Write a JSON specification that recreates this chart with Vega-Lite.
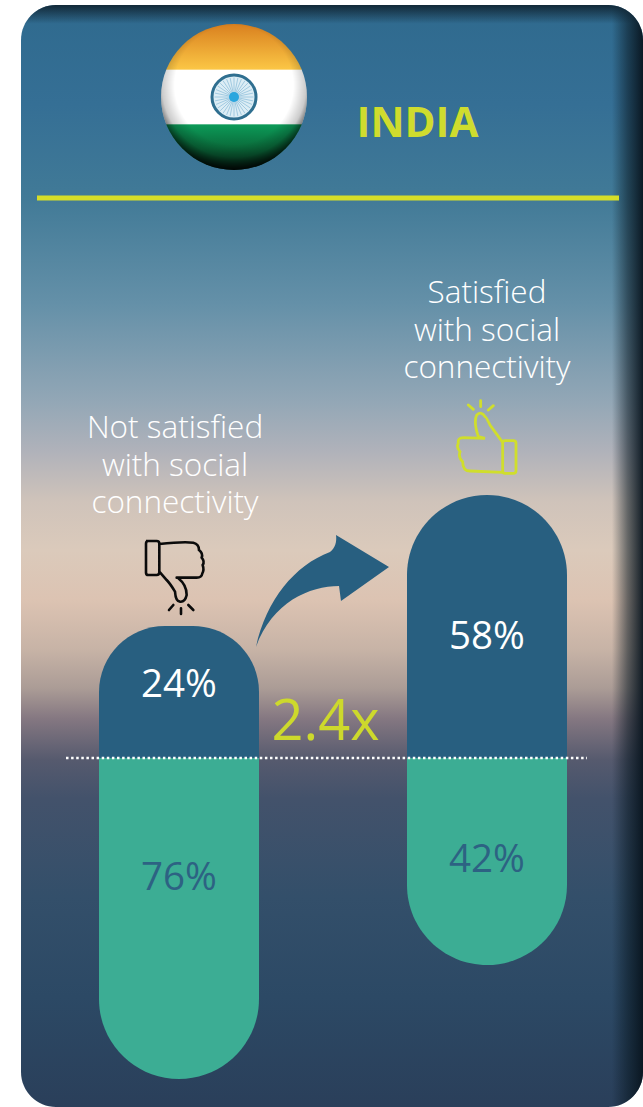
{
  "$schema": "https://vega.github.io/schema/vega-lite/v6.json",
  "width": 643,
  "height": 1107,
  "autosize": "none",
  "padding": 0,
  "background": "#ffffff",
  "config": {"view": {"stroke": null}, "axis": {"disable": true}, "style": {"cell": {"stroke": null}}},
  "datasets": {
    "shares": [
      {"group": "Not satisfied", "part": "upper", "share": 24, "label": "24%", "caption": "Not satisfied\nwith social\nconnectivity"},
      {"group": "Not satisfied", "part": "lower", "share": 76, "label": "76%"},
      {"group": "Satisfied", "part": "upper", "share": 58, "label": "58%", "caption": "Satisfied\nwith social\nconnectivity"},
      {"group": "Satisfied", "part": "lower", "share": 42, "label": "42%"}
    ],
    "header": [{"country": "INDIA", "multiple": "2.4x"}]
  },
  "data": {"name": "shares"},
  "resolve": {"scale": {"x": "independent", "y": "independent"}},
  "layer": [
    {
      "data": {"name": "header"},
      "layer": [
        {
          "mark": {"type": "rect", "cornerRadius": 35, "fill": {"gradient": "linear", "x1": 0, "y1": 0, "x2": 0, "y2": 1, "stops": [
            {"offset": 0, "color": "#2f6a8e"},
            {"offset": 0.09, "color": "#356f95"},
            {"offset": 0.175, "color": "#417a97"},
            {"offset": 0.27, "color": "#6490a8"},
            {"offset": 0.36, "color": "#93a7b6"},
            {"offset": 0.405, "color": "#b0b2ba"},
            {"offset": 0.45, "color": "#cfc3ba"},
            {"offset": 0.495, "color": "#dbcabb"},
            {"offset": 0.54, "color": "#dcc3b2"},
            {"offset": 0.585, "color": "#c7b3a6"},
            {"offset": 0.62, "color": "#ab9c96"},
            {"offset": 0.648, "color": "#847781"},
            {"offset": 0.685, "color": "#565a6e"},
            {"offset": 0.72, "color": "#43526b"},
            {"offset": 0.81, "color": "#334f6a"},
            {"offset": 0.9, "color": "#2c4965"},
            {"offset": 1, "color": "#2a3f5a"}
          ]}},
          "encoding": {
            "x": {"datum": 21, "type": "quantitative", "scale": {"domain": [0, 643], "range": [0, 643], "nice": false, "zero": false}},
            "x2": {"datum": 643},
            "y": {"datum": 5, "type": "quantitative", "scale": {"domain": [0, 1107], "range": [0, 1107], "nice": false, "zero": false}},
            "y2": {"datum": 1107}
          }
        },
        {
          "mark": {"type": "rect", "cornerRadius": 35, "fill": {"gradient": "linear", "x1": 0, "y1": 0, "x2": 1, "y2": 0, "stops": [
            {"offset": 0, "color": "rgba(10,25,35,0)"},
            {"offset": 0.95, "color": "rgba(10,25,35,0)"},
            {"offset": 0.975, "color": "rgba(10,25,35,0.55)"},
            {"offset": 1, "color": "rgba(8,20,30,0.95)"}
          ]}},
          "encoding": {"x": {"datum": 21, "type": "quantitative"}, "x2": {"datum": 643}, "y": {"datum": 5, "type": "quantitative"}, "y2": {"datum": 1107}}
        },
        {
          "mark": {"type": "rect", "cornerRadius": 35, "fill": {"gradient": "linear", "x1": 0, "y1": 0, "x2": 0, "y2": 1, "stops": [
            {"offset": 0, "color": "rgba(15,35,48,0.92)"},
            {"offset": 0.017, "color": "rgba(15,35,48,0)"},
            {"offset": 1, "color": "rgba(15,35,48,0)"}
          ]}},
          "encoding": {"x": {"datum": 21, "type": "quantitative"}, "x2": {"datum": 643}, "y": {"datum": 5, "type": "quantitative"}, "y2": {"datum": 1107}}
        },
        {
          "mark": {"type": "rule", "color": "#d6de28", "strokeWidth": 5},
          "encoding": {"x": {"datum": 37, "type": "quantitative"}, "x2": {"datum": 619}, "y": {"datum": 198, "type": "quantitative"}}
        },
        {
          "mark": {"type": "text", "font": "Open Sans", "fontWeight": "bold", "fontSize": 42, "color": "#cfdc2e", "align": "center", "baseline": "alphabetic"},
          "encoding": {"x": {"datum": 417.5, "type": "quantitative"}, "y": {"datum": 137, "type": "quantitative"}, "text": {"field": "country"}}
        },
        {
          "mark": {"type": "point", "filled": true, "size": 21316, "shape": "circle", "opacity": 1, "fill": {"gradient": "linear", "x1": 0, "y1": 0, "x2": 0, "y2": 1, "stops": [
            {"offset": 0, "color": "#d9801f"},
            {"offset": 0.31, "color": "#fbc645"},
            {"offset": 0.315, "color": "#ffffff"},
            {"offset": 0.685, "color": "#ffffff"},
            {"offset": 0.69, "color": "#0c9a58"},
            {"offset": 0.85, "color": "#0a6a3a"},
            {"offset": 1, "color": "#06291a"}
          ]}},
          "encoding": {"x": {"datum": 234, "type": "quantitative"}, "y": {"datum": 97, "type": "quantitative"}}
        },
        {
          "mark": {"type": "point", "filled": true, "size": 21316, "shape": "circle", "opacity": 1, "fill": {"gradient": "radial", "x1": 0.5, "y1": 0.42, "x2": 0.5, "y2": 0.42, "r1": 0, "r2": 0.58, "stops": [
            {"offset": 0, "color": "rgba(0,0,0,0)"},
            {"offset": 0.7, "color": "rgba(0,0,0,0)"},
            {"offset": 0.85, "color": "rgba(0,0,0,0.2)"},
            {"offset": 1, "color": "rgba(0,0,0,0.85)"}
          ]}},
          "encoding": {"x": {"datum": 234, "type": "quantitative"}, "y": {"datum": 97, "type": "quantitative"}}
        },
        {
          "mark": {"type": "point", "filled": true, "size": 1936, "shape": "circle", "opacity": 1, "fill": "#dcedf5", "stroke": "#2f6f90", "strokeWidth": 3},
          "encoding": {"x": {"datum": 234, "type": "quantitative"}, "y": {"datum": 97, "type": "quantitative"}}
        },
        {
          "mark": {"type": "point", "filled": false, "size": 1521, "opacity": 0.4, "stroke": "#4a97c4", "strokeWidth": 1, "shape": "M0,-1L0,1M-1,0L1,0M-0.71,-0.71L0.71,0.71M-0.71,0.71L0.71,-0.71M-0.38,-0.92L0.38,0.92M0.38,-0.92L-0.38,0.92M-0.92,-0.38L0.92,0.38M-0.92,0.38L0.92,-0.38M-0.2,-0.98L0.2,0.98M0.2,-0.98L-0.2,0.98M-0.98,-0.2L0.98,0.2M-0.98,0.2L0.98,-0.2M-0.56,-0.83L0.56,0.83M0.56,-0.83L-0.56,0.83M-0.83,-0.56L0.83,0.56M-0.83,0.56L0.83,-0.56"},
          "encoding": {"x": {"datum": 234, "type": "quantitative"}, "y": {"datum": 97, "type": "quantitative"}}
        },
        {
          "mark": {"type": "point", "filled": true, "size": 100, "shape": "circle", "opacity": 1, "fill": "#2aa6de"},
          "encoding": {"x": {"datum": 234, "type": "quantitative"}, "y": {"datum": 97, "type": "quantitative"}}
        },
        {
          "mark": {"type": "point", "filled": true, "opacity": 1, "size": 19600, "fill": "#285f80", "strokeWidth": 0, "shape": "M-0.95,0.8C-0.807,0.129,-0.393,-0.371,0.107,-0.557C0.179,-0.614,0.207,-0.7,0.193,-0.8L0.95,-0.343L0.264,0.143L0.236,-0.071C-0.179,-0.071,-0.721,0.157,-0.95,0.8Z"},
          "encoding": {"x": {"datum": 322.5, "type": "quantitative"}, "y": {"datum": 591, "type": "quantitative"}}
        },
        {
          "mark": {"type": "point", "filled": false, "opacity": 1, "size": 4444, "stroke": "#0b0b0b", "strokeWidth": 2.6, "strokeCap": "round", "shape": "M-0.87,-0.92L-0.55,-0.92Q-0.47,-0.92,-0.47,-0.84L-0.47,0.02Q-0.47,0.1,-0.55,0.1L-0.8,0.1Q-0.87,0.1,-0.87,0.03L-0.87,-0.84Q-0.87,-0.92,-0.8,-0.92ZM-0.47,-0.83C-0.1,-0.87,0.3,-0.9,0.55,-0.87Q0.72,-0.83,0.72,-0.65Q0.85,-0.55,0.8,-0.42Q0.9,-0.3,0.83,-0.2Q0.88,-0.05,0.82,0.05Q0.8,0.18,0.65,0.18L0.05,0.18M0.1,0.2Q0.35,0.4,0.35,0.7Q0.3,0.92,0.15,0.9Q0.02,0.9,0,0.6Q-0.15,0.35,-0.25,0.25L-0.47,0M-0.05,1L-0.18,1.15M0.18,1.1L0.18,1.27M0.4,1L0.55,1.15"},
          "encoding": {"x": {"datum": 175, "type": "quantitative"}, "y": {"datum": 571.67, "type": "quantitative"}}
        },
        {
          "mark": {"type": "point", "filled": false, "opacity": 1, "size": 4444, "stroke": "#d0de2c", "strokeWidth": 2.8, "strokeCap": "round", "shape": "M0.55,0.12L0.8,0.12Q0.88,0.12,0.88,0.2L0.88,1.02Q0.88,1.1,0.8,1.1L0.55,1.1Q0.48,1.1,0.48,1.02L0.48,0.2Q0.48,0.12,0.55,0.12ZM0.48,0.17L0.1,-0.35Q-0.02,-0.6,-0.05,-0.6Q-0.15,-0.78,-0.3,-0.65Q-0.4,-0.45,-0.25,0L-0.05,0.05L-0.7,0.03Q-0.88,0.03,-0.85,0.2Q-0.92,0.32,-0.8,0.45Q-0.86,0.62,-0.72,0.75Q-0.72,1.03,-0.5,1.03L0.48,1.07M-0.4,-0.82L-0.55,-0.95M-0.18,-0.9L-0.18,-1.08M0.05,-0.8L0.2,-0.93"},
          "encoding": {"x": {"datum": 486.67, "type": "quantitative"}, "y": {"datum": 436.67, "type": "quantitative"}}
        },
        {
          "mark": {"type": "text", "font": "Open Sans", "fontSize": 56, "color": "#cdd92c", "align": "center", "baseline": "alphabetic"},
          "encoding": {"x": {"datum": 325.5, "type": "quantitative"}, "y": {"datum": 740, "type": "quantitative"}, "text": {"field": "multiple"}}
        }
      ]
    },
    {
      "transform": [{"filter": "datum.part === 'upper'"}],
      "encoding": {
        "x": {"field": "group", "type": "nominal", "scale": {"type": "point", "domain": ["Not satisfied", "Satisfied"], "range": [179, 487], "padding": 0}},
        "y": {"field": "share", "type": "quantitative", "stack": null, "scale": {"domain": [0, 24, 58], "range": [758, 626, 495], "nice": false, "zero": false}}
      },
      "layer": [
        {
          "mark": {"type": "bar", "width": 160, "fill": "#285f80", "cornerRadiusTopLeft": 80, "cornerRadiusTopRight": 80},
          "encoding": {"y2": {"datum": 0}}
        },
        {
          "transform": [{"filter": "datum.share === 24"}],
          "layer": [
            {"mark": {"type": "text", "font": "Open Sans", "fontWeight": 300, "fontSize": 31.5, "color": "#ffffff", "lineHeight": 37.5, "lineBreak": "\n", "baseline": "middle", "dx": -4, "dy": -197}, "encoding": {"text": {"field": "caption"}}},
            {"mark": {"type": "text", "font": "Open Sans", "fontSize": 38.5, "color": "#ffffff", "baseline": "middle", "dy": 59}, "encoding": {"text": {"field": "label"}}}
          ]
        },
        {
          "transform": [{"filter": "datum.share === 58"}],
          "layer": [
            {"mark": {"type": "text", "font": "Open Sans", "fontWeight": 300, "fontSize": 31.5, "color": "#ffffff", "lineHeight": 37.5, "lineBreak": "\n", "baseline": "middle", "dy": -201}, "encoding": {"text": {"field": "caption"}}},
            {"mark": {"type": "text", "font": "Open Sans", "fontSize": 38.5, "color": "#ffffff", "baseline": "middle", "dy": 142}, "encoding": {"text": {"field": "label"}}}
          ]
        }
      ]
    },
    {
      "transform": [{"filter": "datum.part === 'lower'"}],
      "encoding": {
        "x": {"field": "group", "type": "nominal", "scale": {"type": "point", "domain": ["Not satisfied", "Satisfied"], "range": [179, 487], "padding": 0}},
        "y": {"field": "share", "type": "quantitative", "stack": null, "scale": {"domain": [0, 42, 76], "range": [758, 965, 1079], "nice": false, "zero": false}}
      },
      "layer": [
        {
          "mark": {"type": "bar", "width": 160, "fill": "#3cad94", "cornerRadiusBottomLeft": 80, "cornerRadiusBottomRight": 80},
          "encoding": {"y2": {"datum": 0}}
        },
        {
          "transform": [{"filter": "datum.share === 76"}],
          "mark": {"type": "text", "font": "Open Sans", "fontSize": 38.5, "color": "#2d6283", "baseline": "middle", "dy": -201},
          "encoding": {"text": {"field": "label"}}
        },
        {
          "transform": [{"filter": "datum.share === 42"}],
          "mark": {"type": "text", "font": "Open Sans", "fontSize": 38.5, "color": "#2d6283", "baseline": "middle", "dy": -105},
          "encoding": {"text": {"field": "label"}}
        }
      ]
    },
    {
      "data": {"name": "header"},
      "mark": {"type": "rule", "color": "#ffffff", "strokeWidth": 2.5, "strokeDash": [2.5, 2.6]},
      "encoding": {
        "x": {"datum": 66, "type": "quantitative", "scale": {"domain": [0, 643], "range": [0, 643], "nice": false, "zero": false}},
        "x2": {"datum": 587},
        "y": {"datum": 758, "type": "quantitative", "scale": {"domain": [0, 1107], "range": [0, 1107], "nice": false, "zero": false}}
      }
    }
  ]
}
